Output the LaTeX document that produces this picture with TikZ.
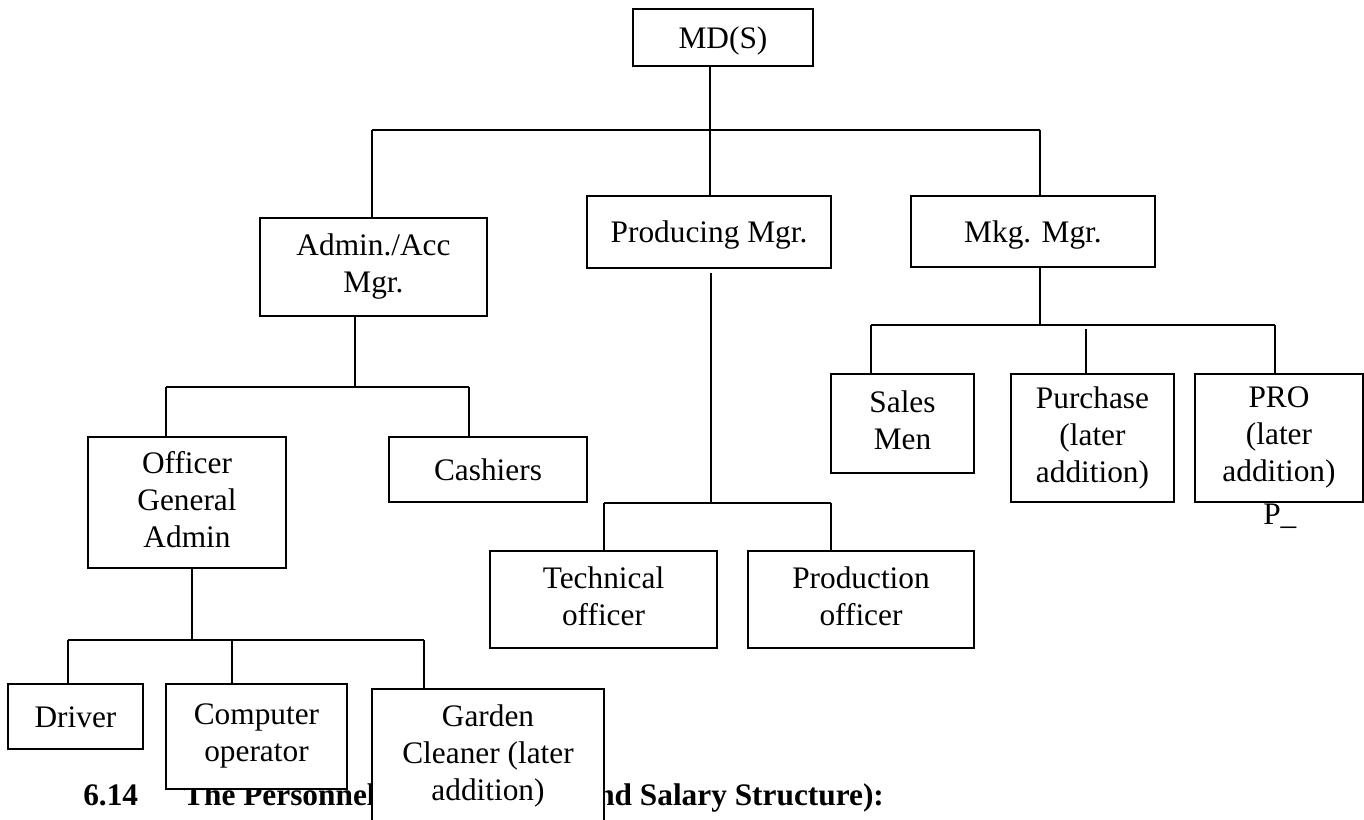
\documentclass[tikz,border=0pt]{standalone}
\usepackage{fontspec}
\setmainfont{Liberation Serif}
\newcommand{\lnstrut}{\rule[-5.1pt]{0pt}{26pt}}
\begin{document}
\begin{tikzpicture}[x=0.75pt,y=-0.75pt,
  orgbox/.style={draw, fill=white, line width=1.3pt, align=center, inner sep=0pt, outer sep=0pt,
    font=\fontsize{23.5}{27.75}\selectfont,
    execute at begin node=\lnstrut, execute at end node=\lnstrut},
  conn/.style={line width=1.3pt},
  head/.style={anchor=base west, inner sep=0pt, font=\fontsize{23.5}{27.75}\selectfont\bfseries}]
\useasboundingbox (0,0) rectangle (1364,820);
\clip (0,0) rectangle (1364,820);

% heading (partly hidden behind boxes)
\node[head] (h1) at (83,805) {6.14};
\node[head] (h2) at (183,805) {The Personnel};
\node[head] (h3) at (597,805) {nd Salary Structure):};

% boxes
\node[orgbox, minimum width=135pt, minimum height=42.75pt] (md) at (723,37.5) {MD(S)};
\node[orgbox, minimum width=170.25pt, minimum height=73.5pt] (adm) at (373.5,267) {Admin./Acc\\Mgr.};
\node[orgbox, minimum width=183pt, minimum height=54pt] (prod) at (709,232) {Producing Mgr.};
\node[orgbox, minimum width=183pt, minimum height=53.25pt] (mkg) at (1033,231.5) {Mkg. Mgr.};
\node[orgbox, minimum width=148.5pt, minimum height=98.25pt] (off) at (187,502.5) {Officer\\General\\Admin};
\node[orgbox, minimum width=148.5pt, minimum height=48.75pt] (cash) at (488,469.5) {Cashiers};
\node[orgbox, minimum width=170.25pt, minimum height=72.75pt] (tech) at (603.5,599.5) {Technical\\officer};
\node[orgbox, minimum width=169.5pt, minimum height=72.75pt] (prodoff) at (861,599.5) {Production\\officer};
\node[orgbox, minimum width=107.25pt, minimum height=74.25pt] (sales) at (902.5,423.5) {Sales\\Men};
\node[orgbox, minimum width=122.25pt, minimum height=96pt] (purch) at (1092.5,438) {Purchase\\(later\\addition)};
\node[orgbox, minimum width=126pt, minimum height=96pt] (pro) at (1279,438) {PRO\\(later\\addition)};
\node[orgbox, minimum width=101.25pt, minimum height=48.75pt] (drv) at (75.5,716.5) {Driver};
\node[orgbox, minimum width=135.75pt, minimum height=78.75pt] (comp) at (256.5,736.5) {Computer\\operator};
\node[orgbox, minimum width=174pt, minimum height=100.5pt] (gard) at (488,756) {Garden\\Cleaner (later\\addition)};
\node[anchor=base west, inner sep=0pt, font=\fontsize{23.5}{27.75}\selectfont] (pnote) at (1263,524) {P\_};

% junction coordinates
\coordinate (tM) at (710,130);
\coordinate (tL) at (372,130);
\coordinate (tR) at (1040,130);
\coordinate (aM) at (355,387);
\coordinate (aL) at (166,387);
\coordinate (aR) at (469,387);
\coordinate (oM) at (192,640);
\coordinate (oL) at (68,640);
\coordinate (oC) at (232,640);
\coordinate (oR) at (424,640);
\coordinate (pTop) at (711,273);
\coordinate (pM) at (711,503);
\coordinate (pL) at (604,503);
\coordinate (pR) at (831,503);
\coordinate (mM) at (1040,325);
\coordinate (mL) at (871,325);
\coordinate (mR) at (1275,325);
\coordinate (mP) at (1086,329);

% top level
\draw[conn] (tM |- md.south) -- (tM |- prod.north);
\draw[conn] (tL) -- (tR);
\draw[conn] (tL) -- (tL |- adm.north);
\draw[conn] (tR) -- (tR |- mkg.north);

% admin branch
\draw[conn] (aM |- adm.south) -- (aM);
\draw[conn] (aL) -- (aR);
\draw[conn] (aL) -- (aL |- off.north);
\draw[conn] (aR) -- (aR |- cash.north);

% officer branch
\draw[conn] (oM |- off.south) -- (oM);
\draw[conn] (oL) -- (oR);
\draw[conn] (oL) -- (oL |- drv.north);
\draw[conn] (oC) -- (oC |- comp.north);
\draw[conn] (oR) -- (oR |- gard.north);

% producing branch
\draw[conn] (pTop) -- (pM);
\draw[conn] (pL) -- (pR);
\draw[conn] (pL) -- (pL |- tech.north);
\draw[conn] (pR) -- (pR |- prodoff.north);

% marketing branch
\draw[conn] (mM |- mkg.south) -- (mM);
\draw[conn] (mL) -- (mR);
\draw[conn] (mL) -- (mL |- sales.north);
\draw[conn] (mP) -- (mP |- purch.north);
\draw[conn] (mR) -- (mR |- pro.north);
\end{tikzpicture}
\end{document}
